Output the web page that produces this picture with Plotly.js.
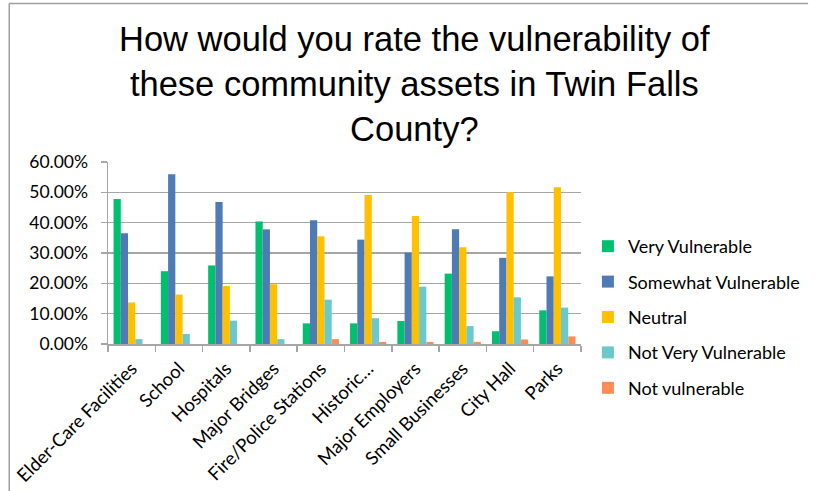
<!DOCTYPE html>
<html>
<head>
<meta charset="utf-8">
<script src="https://cdn.plot.ly/plotly-3.0.1.min.js"></script>
<style>html,body{margin:0;padding:0;background:#fff;}#chart{width:817px;height:491px;}</style>
</head>
<body>
<div id="chart"></div>
<script>
const categories = ["Elder-Care Facilities","School","Hospitals","Major Bridges","Fire/Police Stations","Historic…","Major Employers","Small Businesses","City Hall","Parks"];
const seriesNames = ["Very Vulnerable","Somewhat Vulnerable","Neutral","Not Very Vulnerable","Not vulnerable"];
const veryVulnerable     = [0.478,0.240,0.259,0.404,0.068,0.068,0.076,0.232,0.042,0.111];
const somewhatVulnerable = [0.365,0.560,0.468,0.378,0.408,0.344,0.301,0.378,0.284,0.223];
const neutral            = [0.137,0.163,0.191,0.197,0.355,0.491,0.422,0.319,0.500,0.517];
const notVeryVulnerable  = [0.016,0.033,0.077,0.016,0.146,0.085,0.189,0.059,0.154,0.120];
const notVulnerable      = [0.000,0.000,0.000,0.000,0.016,0.007,0.007,0.007,0.015,0.025];
const colors = ["#00BF6F","#4E7BB5","#FFC000","#6BC8CC","#FF8B55"];
const yTickVals = [0,0.1,0.2,0.3,0.4,0.5,0.6];
const titleText = 'How would you rate the vulnerability of<br>these community assets in Twin Falls<br>County?';

const allSeries = [veryVulnerable,somewhatVulnerable,neutral,notVeryVulnerable,notVulnerable];
const traces = allSeries.map((vals,i)=>({
  type:'bar', x:categories, y:vals, name:seriesNames[i],
  legendgroup:'g'+i,
  marker:{color:colors[i], line:{width:0}},
  hoverinfo:'skip'
}));

// plot area geometry in pixels
const L=108, R=587, T=162, B=344;
const px2x = p => (p-L)/(R-L);
const py2y = p => (B-p)/(B-T);

const layout = {
  width:817, height:491,
  margin:{l:L, r:817-R, t:T, b:491-B, pad:0},
  paper_bgcolor:'#fff', plot_bgcolor:'#fff',
  barmode:'group', bargap:0.235, bargroupgap:0,
  font:{family:'Lato, Calibri, sans-serif', size:14, color:'#000'},
  xaxis:{type:'category', tickangle:-45, showgrid:false, showline:true, linecolor:'#A6A6A6', linewidth:1.5,
    ticks:'outside', tickson:'boundaries', ticklen:6, tickcolor:'#A6A6A6', tickwidth:1.5, automargin:false,
    ticklabelstandoff:5,
    tickfont:{family:'Lato, Calibri, sans-serif', size:18.5, color:'#000'}, fixedrange:true},
  yaxis:{range:[0,0.6], tickvals:yTickVals, tickformat:'.2%', showgrid:true, gridcolor:'#A6A6A6', gridwidth:1.5,
    showline:true, linecolor:'#A6A6A6', linewidth:1.5, ticks:'outside', ticklen:6, tickcolor:'#A6A6A6', tickwidth:1.5,
    ticklabelstandoff:9, zeroline:false, automargin:false,
    tickfont:{family:'Lato, Calibri, sans-serif', size:17.5, color:'#000'}, fixedrange:true},
  legend:{x:px2x(594), xanchor:'left', y:py2y(228), yanchor:'top', traceorder:'grouped', tracegroupgap:9,
    font:{family:'Lato, Calibri, sans-serif', size:18, color:'#000'}, itemwidth:30, bgcolor:'rgba(0,0,0,0)'},
  annotations:[
    {text:titleText, xref:'paper', yref:'paper', x:px2x(418), xanchor:'center', y:py2y(18.5), yanchor:'top',
     showarrow:false, align:'center',
     font:{family:'Liberation Sans, Arial, sans-serif', size:34.5, color:'#000'}}
  ],
  shapes:[
    {type:'line', xref:'paper', yref:'paper', x0:px2x(8), x1:px2x(817), y0:py2y(3.5), y1:py2y(3.5), line:{color:'#A0A0A0', width:1.5}},
    {type:'line', xref:'paper', yref:'paper', x0:px2x(8), x1:px2x(8), y0:py2y(3.5), y1:py2y(491), line:{color:'#A0A0A0', width:1.5}}
  ],
  showlegend:true
};
Plotly.newPlot('chart', traces, layout, {displayModeBar:false, staticPlot:true});
</script>
</body>
</html>
